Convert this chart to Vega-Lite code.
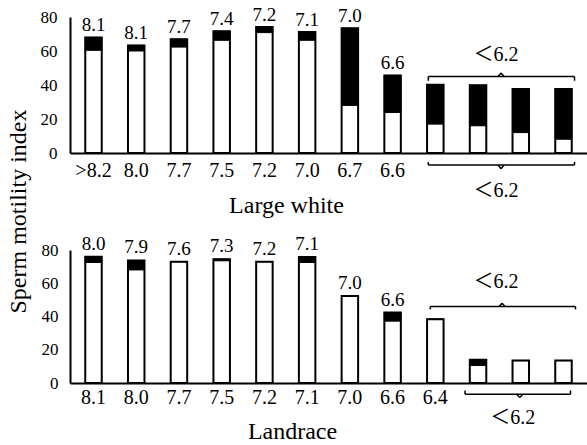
{
  "$schema": "https://vega.github.io/schema/vega-lite/v6.json",
  "background": "white",
  "padding": {"left": 6, "top": 6, "right": 0, "bottom": 0},
  "bounds": "flush",
  "spacing": 97,
  "config": {
    "font": "Liberation Serif",
    "view": {"stroke": null},
    "axis": {"labelFont": "Liberation Serif", "titleFont": "Liberation Serif", "labelOverlap": false, "labelColor": "black", "titleColor": "black", "domainColor": "black", "domainWidth": 2, "ticks": false, "grid": false},
    "text": {"font": "Liberation Serif"}
  },
  "vconcat": [
    {
      "width": 517,
      "height": 136,
      "resolve": {"axis": {"x": "independent", "y": "independent"}},
      "data": {"values": [
        {"id": 1, "upper": "8.1", "white": 60.4, "total": 68},
        {"id": 2, "upper": "8.1", "white": 60, "total": 63.3},
        {"id": 3, "upper": "7.7", "white": 62.3, "total": 66.9},
        {"id": 4, "upper": "7.4", "white": 66.3, "total": 71.6},
        {"id": 5, "upper": "7.2", "white": 70.8, "total": 74.1},
        {"id": 6, "upper": "7.1", "white": 66.3, "total": 71.2},
        {"id": 7, "upper": "7.0", "white": 28, "total": 73.4},
        {"id": 8, "upper": "6.6", "white": 23.8, "total": 45.6},
        {"id": 9, "upper": "", "white": 17, "total": 40.2},
        {"id": 10, "upper": "", "white": 16, "total": 39.8},
        {"id": 11, "upper": "", "white": 12, "total": 37.7},
        {"id": 12, "upper": "", "white": 8.1, "total": 37.7}
      ]},
      "layer": [
        {
          "mark": {"type": "bar", "fill": "white", "stroke": "black", "strokeWidth": 2},
          "encoding": {
            "x": {"field": "id", "type": "ordinal",
              "scale": {"paddingInner": 0.614, "paddingOuter": 0.357},
              "axis": {"title": "Large white", "titleFontSize": 24, "titleFontWeight": "normal",
                "titleX": 216, "titleY": 59, "titleBaseline": "alphabetic", "titleAlign": "center",
                "labelExpr": "['>8.2','8.0','7.7','7.5','7.2','7.0','6.7','6.6','','','',''][datum.value - 1]",
                "labelAngle": 0, "labelFontSize": 20, "labelBaseline": "alphabetic", "labelPadding": 23}},
            "y": {"field": "total", "type": "quantitative", "title": "Sperm motility index",
              "scale": {"domain": [0, 80], "nice": false},
              "axis": {"values": [0, 20, 40, 60, 80], "labelPadding": 13, "labelOverlap": false, "labelFontSize": 17,
                "titleFontSize": 24, "titleFontWeight": "normal",
                "titleX": -45, "titleY": 194, "titleAngle": 270, "titleBaseline": "alphabetic", "titleAlign": "center"}}
          }
        },
        {
          "mark": {"type": "bar", "fill": "black", "stroke": "black", "strokeWidth": 1},
          "encoding": {
            "x": {"field": "id", "type": "ordinal", "axis": null},
            "y": {"field": "white", "type": "quantitative", "axis": null},
            "y2": {"field": "total"}
          }
        },
        {
          "mark": {"type": "text", "baseline": "alphabetic", "dy": -6, "fontSize": 19, "color": "black", "font": "Liberation Serif"},
          "encoding": {
            "x": {"field": "id", "type": "ordinal", "axis": null},
            "y": {"field": "total", "type": "quantitative", "axis": null},
            "text": {"field": "upper"}
          }
        },
        {"data": {"values": [{}]}, "mark": {"type": "rule", "strokeWidth": 1.5, "xOffset": -7, "x2Offset": 11},
          "encoding": {"x": {"datum": 9, "type": "ordinal", "axis": null}, "x2": {"datum": 12}, "y": {"datum": 45, "type": "quantitative", "axis": null}}},
        {"data": {"values": [{}]}, "mark": {"type": "rule", "strokeWidth": 1.5, "xOffset": -7},
          "encoding": {"x": {"datum": 9, "type": "ordinal", "axis": null}, "y": {"datum": 45, "type": "quantitative", "axis": null}, "y2": {"datum": 42.5}}},
        {"data": {"values": [{}]}, "mark": {"type": "rule", "strokeWidth": 1.5, "xOffset": 11},
          "encoding": {"x": {"datum": 12, "type": "ordinal", "axis": null}, "y": {"datum": 45, "type": "quantitative", "axis": null}, "y2": {"datum": 42.5}}},
        {"data": {"values": [{}]}, "mark": {"type": "rule", "strokeWidth": 1.5, "xOffset": 20, "x2Offset": 23},
          "encoding": {"x": {"datum": 10, "type": "ordinal", "axis": null}, "x2": {"datum": 10}, "y": {"datum": 45, "type": "quantitative", "axis": null}, "y2": {"datum": 47}}},
        {"data": {"values": [{}]}, "mark": {"type": "rule", "strokeWidth": 1.5, "xOffset": 23, "x2Offset": 26},
          "encoding": {"x": {"datum": 10, "type": "ordinal", "axis": null}, "x2": {"datum": 10}, "y": {"datum": 47, "type": "quantitative", "axis": null}, "y2": {"datum": 45}}},
        {"data": {"values": [{"label": "＜6.2"}]}, "mark": {"type": "text", "fontSize": 20, "baseline": "middle", "xOffset": 18, "color": "black", "font": "Liberation Serif, Noto Sans CJK JP"},
          "encoding": {"x": {"datum": 10, "type": "ordinal", "axis": null}, "y": {"datum": 57.4, "type": "quantitative", "axis": null}, "text": {"field": "label"}}},
        {"data": {"values": [{}]}, "mark": {"type": "rule", "strokeWidth": 1.5, "xOffset": -7, "x2Offset": 11},
          "encoding": {"x": {"datum": 9, "type": "ordinal", "axis": null}, "x2": {"datum": 12}, "y": {"datum": -7.1, "type": "quantitative", "axis": null}}},
        {"data": {"values": [{}]}, "mark": {"type": "rule", "strokeWidth": 1.5, "xOffset": -7},
          "encoding": {"x": {"datum": 9, "type": "ordinal", "axis": null}, "y": {"datum": -7.1, "type": "quantitative", "axis": null}, "y2": {"datum": -5.3}}},
        {"data": {"values": [{}]}, "mark": {"type": "rule", "strokeWidth": 1.5, "xOffset": 11},
          "encoding": {"x": {"datum": 12, "type": "ordinal", "axis": null}, "y": {"datum": -7.1, "type": "quantitative", "axis": null}, "y2": {"datum": -5.3}}},
        {"data": {"values": [{}]}, "mark": {"type": "rule", "strokeWidth": 1.5, "xOffset": 20, "x2Offset": 23},
          "encoding": {"x": {"datum": 10, "type": "ordinal", "axis": null}, "x2": {"datum": 10}, "y": {"datum": -7.1, "type": "quantitative", "axis": null}, "y2": {"datum": -9.3}}},
        {"data": {"values": [{}]}, "mark": {"type": "rule", "strokeWidth": 1.5, "xOffset": 23, "x2Offset": 26},
          "encoding": {"x": {"datum": 10, "type": "ordinal", "axis": null}, "x2": {"datum": 10}, "y": {"datum": -9.3, "type": "quantitative", "axis": null}, "y2": {"datum": -7.1}}},
        {"data": {"values": [{"label": "＜6.2"}]}, "mark": {"type": "text", "fontSize": 20, "baseline": "middle", "xOffset": 18, "color": "black", "font": "Liberation Serif, Noto Sans CJK JP"},
          "encoding": {"x": {"datum": 10, "type": "ordinal", "axis": null}, "y": {"datum": -22.5, "type": "quantitative", "axis": null}, "text": {"field": "label"}}}
      ]
    },
    {
      "width": 517,
      "height": 133,
      "resolve": {"axis": {"x": "independent", "y": "independent"}},
      "data": {"values": [
        {"id": 1, "upper": "8.0", "white": 72.5, "total": 76},
        {"id": 2, "upper": "7.9", "white": 68, "total": 73.7},
        {"id": 3, "upper": "7.6", "white": 73, "total": 73},
        {"id": 4, "upper": "7.3", "white": 73.5, "total": 74.5},
        {"id": 5, "upper": "7.2", "white": 73, "total": 73},
        {"id": 6, "upper": "7.1", "white": 72.5, "total": 75.8},
        {"id": 7, "upper": "7.0", "white": 52.4, "total": 52.4},
        {"id": 8, "upper": "6.6", "white": 37.2, "total": 42.4},
        {"id": 9, "upper": "", "white": 38.4, "total": 38.4},
        {"id": 10, "upper": "", "white": 10.5, "total": 14},
        {"id": 11, "upper": "", "white": 13.5, "total": 13.5},
        {"id": 12, "upper": "", "white": 13.5, "total": 13.5}
      ]},
      "layer": [
        {
          "mark": {"type": "bar", "fill": "white", "stroke": "black", "strokeWidth": 2},
          "encoding": {
            "x": {"field": "id", "type": "ordinal",
              "scale": {"paddingInner": 0.614, "paddingOuter": 0.357},
              "axis": {"title": "Landrace", "titleFontSize": 24, "titleFontWeight": "normal",
                "titleX": 222, "titleY": 55, "titleBaseline": "alphabetic", "titleAlign": "center",
                "labelExpr": "['8.1','8.0','7.7','7.5','7.2','7.1','7.0','6.6','6.4','','',''][datum.value - 1]",
                "labelAngle": 0, "labelFontSize": 20, "labelBaseline": "alphabetic", "labelPadding": 20}},
            "y": {"field": "total", "type": "quantitative", "title": null,
              "scale": {"domain": [0, 80], "nice": false},
              "axis": {"values": [0, 20, 40, 60, 80], "labelPadding": 12, "labelOverlap": false, "labelFontSize": 17}}
          }
        },
        {
          "mark": {"type": "bar", "fill": "black", "stroke": "black", "strokeWidth": 1},
          "encoding": {
            "x": {"field": "id", "type": "ordinal", "axis": null},
            "y": {"field": "white", "type": "quantitative", "axis": null},
            "y2": {"field": "total"}
          }
        },
        {
          "mark": {"type": "text", "baseline": "alphabetic", "dy": -7, "fontSize": 19, "color": "black", "font": "Liberation Serif"},
          "encoding": {
            "x": {"field": "id", "type": "ordinal", "axis": null},
            "y": {"field": "total", "type": "quantitative", "axis": null},
            "text": {"field": "upper"}
          }
        },
        {"data": {"values": [{}]}, "mark": {"type": "rule", "strokeWidth": 1.5, "xOffset": -5, "x2Offset": 12},
          "encoding": {"x": {"datum": 9, "type": "ordinal", "axis": null}, "x2": {"datum": 12}, "y": {"datum": 46, "type": "quantitative", "axis": null}}},
        {"data": {"values": [{}]}, "mark": {"type": "rule", "strokeWidth": 1.5, "xOffset": -5},
          "encoding": {"x": {"datum": 9, "type": "ordinal", "axis": null}, "y": {"datum": 46, "type": "quantitative", "axis": null}, "y2": {"datum": 44.3}}},
        {"data": {"values": [{}]}, "mark": {"type": "rule", "strokeWidth": 1.5, "xOffset": 12},
          "encoding": {"x": {"datum": 12, "type": "ordinal", "axis": null}, "y": {"datum": 46, "type": "quantitative", "axis": null}, "y2": {"datum": 44.3}}},
        {"data": {"values": [{}]}, "mark": {"type": "rule", "strokeWidth": 1.5, "xOffset": 21, "x2Offset": 24},
          "encoding": {"x": {"datum": 10, "type": "ordinal", "axis": null}, "x2": {"datum": 10}, "y": {"datum": 46, "type": "quantitative", "axis": null}, "y2": {"datum": 48}}},
        {"data": {"values": [{}]}, "mark": {"type": "rule", "strokeWidth": 1.5, "xOffset": 24, "x2Offset": 27},
          "encoding": {"x": {"datum": 10, "type": "ordinal", "axis": null}, "x2": {"datum": 10}, "y": {"datum": 48, "type": "quantitative", "axis": null}, "y2": {"datum": 46}}},
        {"data": {"values": [{"label": "＜6.2"}]}, "mark": {"type": "text", "fontSize": 20, "baseline": "middle", "xOffset": 18, "color": "black", "font": "Liberation Serif, Noto Sans CJK JP"},
          "encoding": {"x": {"datum": 10, "type": "ordinal", "axis": null}, "y": {"datum": 61, "type": "quantitative", "axis": null}, "text": {"field": "label"}}},
        {"data": {"values": [{}]}, "mark": {"type": "rule", "strokeWidth": 1.5, "xOffset": -13, "x2Offset": 7},
          "encoding": {"x": {"datum": 10, "type": "ordinal", "axis": null}, "x2": {"datum": 12}, "y": {"datum": -6.7, "type": "quantitative", "axis": null}}},
        {"data": {"values": [{}]}, "mark": {"type": "rule", "strokeWidth": 1.5, "xOffset": -13},
          "encoding": {"x": {"datum": 10, "type": "ordinal", "axis": null}, "y": {"datum": -6.7, "type": "quantitative", "axis": null}, "y2": {"datum": -4.5}}},
        {"data": {"values": [{}]}, "mark": {"type": "rule", "strokeWidth": 1.5, "xOffset": 7},
          "encoding": {"x": {"datum": 12, "type": "ordinal", "axis": null}, "y": {"datum": -6.7, "type": "quantitative", "axis": null}, "y2": {"datum": -4.5}}},
        {"data": {"values": [{}]}, "mark": {"type": "rule", "strokeWidth": 1.5, "xOffset": -4, "x2Offset": -1},
          "encoding": {"x": {"datum": 11, "type": "ordinal", "axis": null}, "x2": {"datum": 11}, "y": {"datum": -6.7, "type": "quantitative", "axis": null}, "y2": {"datum": -8.8}}},
        {"data": {"values": [{}]}, "mark": {"type": "rule", "strokeWidth": 1.5, "xOffset": -1, "x2Offset": 2},
          "encoding": {"x": {"datum": 11, "type": "ordinal", "axis": null}, "x2": {"datum": 11}, "y": {"datum": -8.8, "type": "quantitative", "axis": null}, "y2": {"datum": -6.7}}},
        {"data": {"values": [{"label": "＜6.2"}]}, "mark": {"type": "text", "fontSize": 20, "baseline": "middle", "xOffset": -8, "color": "black", "font": "Liberation Serif, Noto Sans CJK JP"},
          "encoding": {"x": {"datum": 11, "type": "ordinal", "axis": null}, "y": {"datum": -20.8, "type": "quantitative", "axis": null}, "text": {"field": "label"}}}
      ]
    }
  ]
}
